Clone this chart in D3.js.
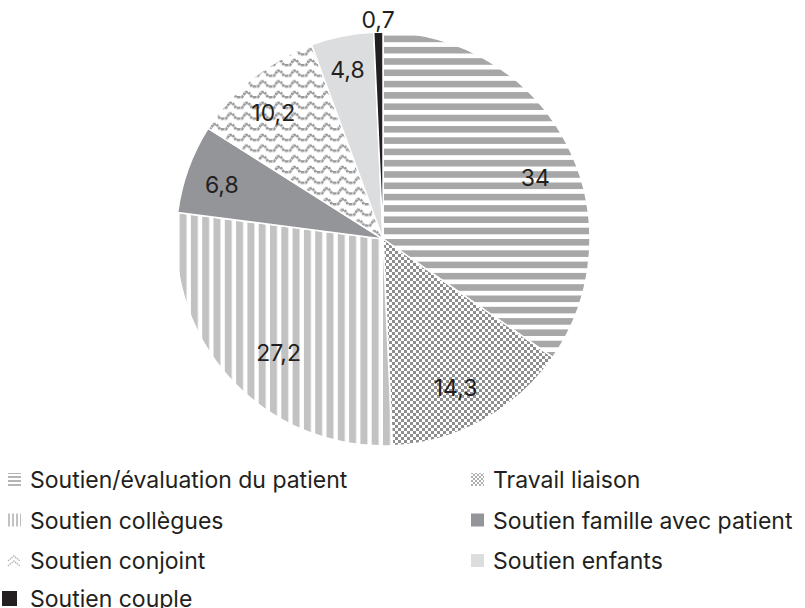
<!DOCTYPE html>
<html>
<head>
<meta charset="utf-8">
<script src="https://cdn.jsdelivr.net/npm/d3@7"></script>
<style>
  body { margin: 0; background: #fff; }
  text { font-family: Inter, "Noto Sans", sans-serif; fill: #231f20; }
</style>
</head>
<body>
<svg width="805" height="608"></svg>
<script>
// Data
var categories = ['Soutien/évaluation du patient', 'Travail liaison', 'Soutien collègues',
    'Soutien famille avec patient', 'Soutien conjoint', 'Soutien enfants', 'Soutien couple'];
var values = [34, 14.3, 27.2, 6.8, 10.2, 4.8, 0.7];
var labels = ['34', '14,3', '27,2', '6,8', '10,2', '4,8', '0,7'];

var svg = d3.select('svg');

var cx = 383, cy = 239, radius = 207;
// small hand nudges of the value labels away from the centroid
var labelNudge = [[6, 15], [-7, 4], [17, 2], [-6, 2], [-6, 2], [-3, -8], [0, 1]];

var defs = svg.append('defs');

// horizontal stripes
var p = defs.append('pattern').attr('id', 'hstripe').attr('patternUnits', 'userSpaceOnUse')
    .attr('width', 10).attr('height', 11.3);
p.append('rect').attr('width', 10).attr('height', 6.6).attr('fill', '#a7a7a7');

// checker
p = defs.append('pattern').attr('id', 'checker').attr('patternUnits', 'userSpaceOnUse')
    .attr('width', 6).attr('height', 6);
p.append('rect').attr('width', 6).attr('height', 6).attr('fill', '#fff');
p.append('rect').attr('width', 3).attr('height', 3).attr('fill', '#8e8e8e');
p.append('rect').attr('x', 3).attr('y', 3).attr('width', 3).attr('height', 3).attr('fill', '#8e8e8e');

// vertical stripes
p = defs.append('pattern').attr('id', 'vstripe').attr('patternUnits', 'userSpaceOnUse')
    .attr('width', 11.3).attr('height', 10);
p.append('rect').attr('width', 7).attr('height', 10).attr('fill', '#c2c2c2');

// waves
p = defs.append('pattern').attr('id', 'wave').attr('patternUnits', 'userSpaceOnUse')
    .attr('width', 16).attr('height', 10.7);
p.append('rect').attr('width', 16).attr('height', 10.7).attr('fill', '#fff');
p.append('path').attr('d', 'M-1,8 L3,8 L6.5,3 L9.5,3 L13,8 L17,8')
    .attr('fill', 'none').attr('stroke', '#999').attr('stroke-width', 2.6)
    .attr('stroke-dasharray', '2.6,0.7');

// small versions for legend icons
p = defs.append('pattern').attr('id', 'hstripeS').attr('patternUnits', 'userSpaceOnUse')
    .attr('width', 12).attr('height', 4);
p.append('rect').attr('width', 12).attr('height', 2).attr('fill', '#b5b5b5');
p = defs.append('pattern').attr('id', 'vstripeS').attr('patternUnits', 'userSpaceOnUse')
    .attr('width', 4).attr('height', 12);
p.append('rect').attr('width', 2).attr('height', 12).attr('fill', '#c2c2c2');
p = defs.append('pattern').attr('id', 'checkerS').attr('patternUnits', 'userSpaceOnUse')
    .attr('width', 4).attr('height', 4);
p.append('rect').attr('width', 2).attr('height', 2).attr('fill', '#b0b0b0');
p.append('rect').attr('x', 2).attr('y', 2).attr('width', 2).attr('height', 2).attr('fill', '#b0b0b0');

var fills = ['url(#hstripe)', 'url(#checker)', 'url(#vstripe)', '#939598', 'url(#wave)', '#dcddde', '#231f20'];
var iconFills = ['url(#hstripeS)', 'url(#checkerS)', 'url(#vstripeS)', '#939598', 'wave', '#dcddde', '#231f20'];

var pie = d3.pie().sort(null).value(function(d) { return d; });
var arcs = pie(values);

var arc = d3.arc().innerRadius(0).outerRadius(radius);
var labelArc = d3.arc().innerRadius(165).outerRadius(165);
var outerArc = d3.arc().innerRadius(220).outerRadius(220);

var pieG = svg.append('g').attr('transform', 'translate(' + [cx, cy] + ')');

pieG.selectAll('.slice')
    .data(arcs)
    .enter()
    .append('path')
    .attr('class', 'slice')
    .attr('d', arc)
    .attr('fill', function(d, i) { return fills[i]; })
    .attr('stroke', '#fff')
    .attr('stroke-width', 1.5);

pieG.selectAll('.label')
    .data(arcs)
    .enter()
    .append('text')
    .attr('class', 'label')
    .attr('transform', function(d, i) {
        // the tiny slice gets its label outside the pie
        var c = (d.endAngle - d.startAngle) < 0.1 ? outerArc.centroid(d) : labelArc.centroid(d);
        return 'translate(' + [c[0] + labelNudge[i][0], c[1] + labelNudge[i][1]] + ')';
    })
    .attr('text-anchor', 'middle')
    .attr('dy', '0.36em')
    .style('font-size', '23px')
    .text(function(d, i) { return labels[i]; });

// Legend, two columns
var colX = [8, 471];
var rowY = [480, 520.5, 561, 599];
var legend = svg.selectAll('.legend')
    .data(categories)
    .enter()
    .append('g')
    .attr('class', 'legend')
    .attr('transform', function(d, i) {
        return 'translate(' + [colX[i % 2], rowY[Math.floor(i / 2)]] + ')';
    });

legend.each(function(d, i) {
    var g = d3.select(this);
    if (iconFills[i] === 'wave') {
        g.append('path').attr('d', 'M0,0 L6,-5 L12,0 M0,5 L6,0 L12,5')
            .attr('fill', 'none').attr('stroke', '#b5b5b5').attr('stroke-width', 1.4)
            .attr('stroke-dasharray', '1.5,0.8');
    } else if (i === 6) {
        g.append('rect').attr('x', -6).attr('y', -8).attr('width', 15).attr('height', 15)
            .attr('fill', iconFills[i]);
    } else {
        g.append('rect').attr('x', 0).attr('y', -7).attr('width', 13).attr('height', 13)
            .attr('fill', iconFills[i]);
    }
    g.append('text')
        .attr('x', 22)
        .attr('dy', '0.36em')
        .style('font-size', '23px')
        .text(d);
});
</script>
</body>
</html>
